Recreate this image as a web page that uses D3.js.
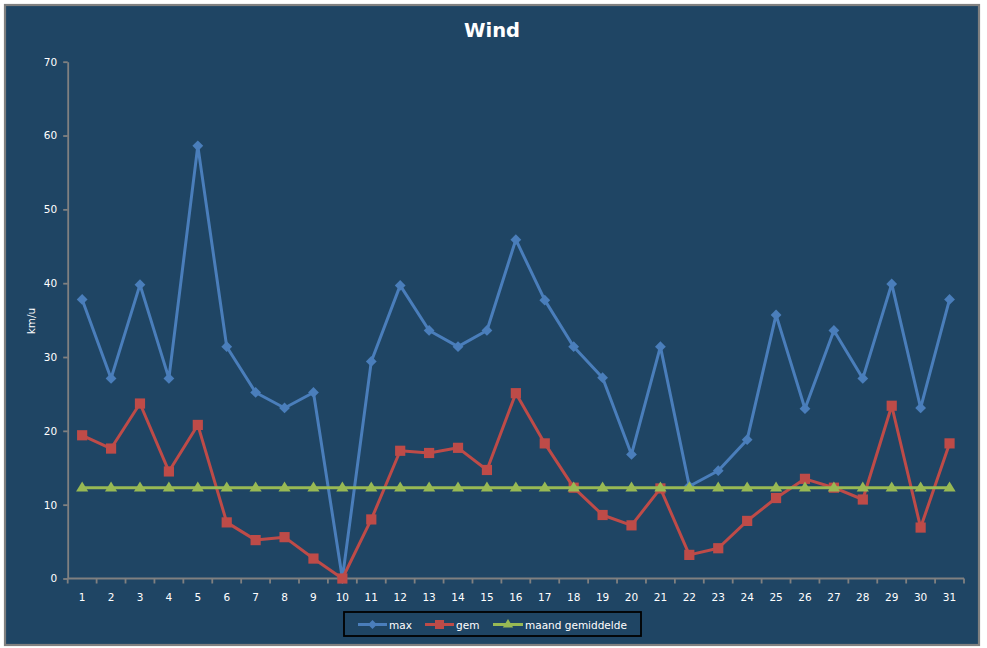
<!DOCTYPE html>
<html>
<head>
<meta charset="utf-8">
<script src="https://cdn.jsdelivr.net/npm/d3@7"></script>
<style>
  html, body { margin: 0; padding: 0; background: #ffffff; }
  svg { display: block; }
  text { font-family: "DejaVu Sans", Verdana, sans-serif; }
</style>
</head>
<body>
<svg id="chart" width="987" height="648"></svg>
<script>
// ---- Data ----
const days = d3.range(1, 32).map(String);
const maxValues = [37.8, 27.1, 39.8, 27.1, 58.6, 31.4, 25.2, 23.1, 25.2, 0, 29.4, 39.7, 33.6, 31.4, 33.6, 45.9, 37.7, 31.4, 27.2, 16.8, 31.4, 12.5, 14.6, 18.8, 35.7, 23.0, 33.6, 27.1, 39.9, 23.1, 37.8];
const gemValues = [19.4, 17.6, 23.7, 14.5, 20.8, 7.6, 5.2, 5.6, 2.7, 0, 8.0, 17.3, 17.0, 17.7, 14.7, 25.1, 18.3, 12.3, 8.6, 7.2, 12.2, 3.2, 4.1, 7.8, 10.9, 13.5, 12.3, 10.7, 23.4, 6.9, 18.3];
const maandValues = days.map(() => 12.3);
const yTicks = [0, 10, 20, 30, 40, 50, 60, 70];
const seriesNames = ["max", "gem", "maand gemiddelde"];
const title = "Wind";
const yTitle = "km/u";

// ---- Styles ----
const bg = "#1F4564";
const axisColor = "#808080";
const colors = ["#4A7EBB", "#BE4B48", "#98B954"];
const markers = ["diamond", "square", "triangle"];

const svg = d3.select("#chart");

// frame
svg.append("rect").attr("x", 5).attr("y", 5).attr("width", 974).attr("height", 640)
  .attr("fill", bg).attr("stroke", axisColor).attr("stroke-width", 2.2);

// scales
const x = d3.scaleBand().domain(days).range([67.7, 964]);
const y = d3.scaleLinear().domain([0, 70]).range([578.5, 61.7]);
const cx = d => x(d) + x.bandwidth() / 2;

// y axis
const yAxis = svg.append("g").attr("transform", "translate(67.7,0)")
  .call(d3.axisLeft(y).tickValues(yTicks).tickSize(4.5).tickSizeOuter(0).tickPadding(6));
yAxis.select(".domain").attr("stroke", axisColor).attr("stroke-width", 1.8);
yAxis.selectAll(".tick line").attr("stroke", axisColor).attr("stroke-width", 1.8);
yAxis.selectAll(".tick text").attr("fill", "#ffffff").attr("font-size", "10.5px")
  .attr("font-family", "DejaVu Sans, sans-serif");

// x axis with ticks between categories
const xAxisG = svg.append("g").attr("transform", "translate(0,578.5)");
xAxisG.append("line").attr("x1", x.range()[0]).attr("x2", x.range()[1])
  .attr("stroke", axisColor).attr("stroke-width", 1.8);
const boundaries = days.map(d => x(d)).concat([x.range()[1]]);
xAxisG.selectAll("line.tk").data(boundaries).enter().append("line").attr("class", "tk")
  .attr("x1", d => d).attr("x2", d => d).attr("y1", 0).attr("y2", 5)
  .attr("stroke", axisColor).attr("stroke-width", 1.8);
xAxisG.selectAll("text").data(days).enter().append("text")
  .attr("x", d => cx(d)).attr("y", 22).attr("text-anchor", "middle")
  .attr("fill", "#ffffff").attr("font-size", "10.5px").text(d => d);

// title
svg.append("text").attr("x", 492).attr("y", 37).attr("text-anchor", "middle")
  .attr("fill", "#ffffff").attr("font-size", "19.5px").attr("font-weight", "bold").text(title);

// y title
svg.append("text").attr("transform", "translate(35,321) rotate(-90)").attr("text-anchor", "middle")
  .attr("fill", "#ffffff").attr("font-size", "10.5px").text(yTitle);

// marker path generator
function markerPath(type, s) {
  if (type === "diamond") {
    return `M0,${-s}L${s},0L0,${s}L${-s},0Z`;
  } else if (type === "square") {
    return `M${-s},${-s}H${s}V${s}H${-s}Z`;
  } else {
    return `M0,${-s}L${s * 1.15},${s * 0.9}L${-s * 1.15},${s * 0.9}Z`;
  }
}
const markerSizes = [5.4, 5.1, 5.3];

const allSeries = [maxValues, gemValues, maandValues];
const line = d3.line().x((d, i) => cx(days[i])).y(d => y(d));

allSeries.forEach((vals, si) => {
  const g = svg.append("g");
  g.append("path").datum(vals).attr("d", line).attr("fill", "none")
    .attr("stroke", colors[si]).attr("stroke-width", 3).attr("stroke-linejoin", "round");
  g.selectAll("path.m").data(vals).enter().append("path").attr("class", "m")
    .attr("transform", (d, i) => `translate(${cx(days[i])},${y(d) + (si === 2 ? -1 : 0)})`)
    .attr("d", markerPath(markers[si], markerSizes[si]))
    .attr("fill", colors[si]);
});

// legend
const lg = svg.append("g");
lg.append("rect").attr("x", 344).attr("y", 612).attr("width", 297).attr("height", 24)
  .attr("fill", bg).attr("stroke", "#000000").attr("stroke-width", 1.8);
const legendItems = [
  { x1: 358, x2: 387, tx: 389 },
  { x1: 425, x2: 454, tx: 456 },
  { x1: 493, x2: 523, tx: 525 }
];
legendItems.forEach((it, i) => {
  lg.append("line").attr("x1", it.x1).attr("x2", it.x2).attr("y1", 624.5).attr("y2", 624.5)
    .attr("stroke", colors[i]).attr("stroke-width", 3);
  lg.append("path").attr("transform", `translate(${(it.x1 + it.x2) / 2},${624.5 + (i === 2 ? -1 : 0)})`)
    .attr("d", markerPath(markers[i], 4.5)).attr("fill", colors[i]);
  lg.append("text").attr("x", it.tx).attr("y", 628.5).attr("fill", "#ffffff")
    .attr("font-size", "10.5px").text(seriesNames[i]);
});
</script>
</body>
</html>
